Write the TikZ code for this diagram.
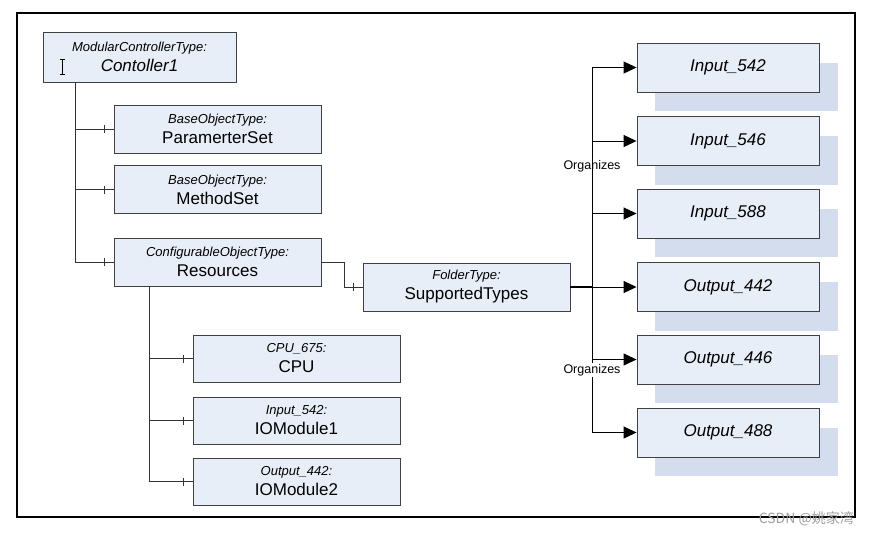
\documentclass[tikz,border=0pt]{standalone}
\usepackage{fontspec}
\setmainfont{Liberation Sans}
\newfontfamily\cjkfont{Noto Sans CJK SC}
\usetikzlibrary{arrows.meta,backgrounds}
\definecolor{boxfill}{HTML}{E8EEF8}
\definecolor{shadowfill}{HTML}{D3DDEE}
\definecolor{boxline}{HTML}{404040}
\definecolor{linkcol}{HTML}{333333}
\tikzset{
 objbox/.style={draw=boxline,fill=boxfill,line width=0.9pt,minimum width=207pt,minimum height=48pt,inner sep=0pt,align=center,font=\fontsize{17}{20}\selectfont},
 varbox/.style={objbox,minimum width=182pt,minimum height=49pt,font=\fontsize{17}{20}\selectfont\itshape},
 link/.style={draw=linkcol,line width=1pt},
 ref/.style={draw=black,line width=1pt,-{Triangle[length=13pt,width=12pt]}},
 orglbl/.style={font=\fontsize{12.5}{14}\selectfont,inner sep=1pt},
}
\newcommand{\tname}[1]{{\fontsize{13}{15}\selectfont\itshape #1}}
\begin{document}
\begin{tikzpicture}[x=1pt,y=-1pt]
\useasboundingbox (0,0) rectangle (869,536);
\draw[line width=1.4pt] (17,13) rectangle (855,517);
\node[objbox,minimum width=193pt,minimum height=50pt] (ctrl) at (139.5,57) {\tname{ModularControllerType:}\\\itshape Contoller1};
\node[objbox] (param) at (217.5,129) {\tname{BaseObjectType:}\\ParamerterSet};
\node[objbox] (meth) at (217.5,189.5) {\tname{BaseObjectType:}\\MethodSet};
\node[objbox] (res) at (217.5,262) {\tname{ConfigurableObjectType:}\\Resources};
\node[objbox] (fold) at (466.5,287) {\tname{FolderType:}\\SupportedTypes};
\node[objbox,minimum height=47pt] (cpu) at (296.5,358.5) {\tname{CPU\_675:}\\CPU};
\node[objbox,minimum height=47pt] (iom1) at (296.5,420.5) {\tname{Input\_542:}\\IOModule1};
\node[objbox,minimum height=47pt] (iom2) at (296.5,481.5) {\tname{Output\_442:}\\IOModule2};
\foreach \n/\y in {542/67.5,546/141,588/213.5}{\node[varbox] (in\n) at (728,\y) {Input\_\n};}
\foreach \n/\y in {442/287,446/359.5,488/432.5}{\node[varbox] (out\n) at (728,\y) {Output\_\n};}
\begin{scope}[on background layer]
\foreach \b in {in542,in546,in588,out442,out446,out488}
 \fill[shadowfill] ([xshift=18pt,yshift=-20pt]\b.north west) rectangle ([xshift=19pt,yshift=-19pt]\b.south east);
\end{scope}
\coordinate (ctrltrunk) at ([xshift=-64.5pt]ctrl.south);
\coordinate (restrunk) at ([xshift=-68.5pt]res.south);
\coordinate (orgtrunk) at ([xshift=22pt]fold.east);
\foreach \b in {param,meth,res}{\draw[link] (ctrltrunk) |- (\b.west); \draw[link] ([xshift=-9pt]\b.west) ++(0,-4) -- ++(0,8);}
\foreach \b in {cpu,iom1,iom2}{\draw[link] (restrunk) |- (\b.west); \draw[link] ([xshift=-9pt]\b.west) ++(0,-4) -- ++(0,8);}
\draw[link] (res.east) -- ++(23,0) |- (fold.west);
\draw[link] ([xshift=-9pt]fold.west) ++(0,-4) -- ++(0,8);
\draw[draw=black,line width=1.2pt] (fold.east) -- (orgtrunk);
\foreach \b in {in542,in546,in588,out442,out446,out488}{\draw[ref] (orgtrunk) |- (\b.west);}
\node[orglbl] (org1) at (592,166) {Organizes};
\node[orglbl,fill=white] (org2) at (592,370) {Organizes};
\draw[line width=1pt] (62,60) -- (62,74) (59.5,59.5) -- (64.5,59.5) (59.5,74.5) -- (64.5,74.5);
\node[text=gray!75,font=\cjkfont\fontsize{14}{16}\selectfont,anchor=east,inner sep=0pt] (mark) at (854,519) {CSDN @姚家湾};
\end{tikzpicture}
\end{document}
